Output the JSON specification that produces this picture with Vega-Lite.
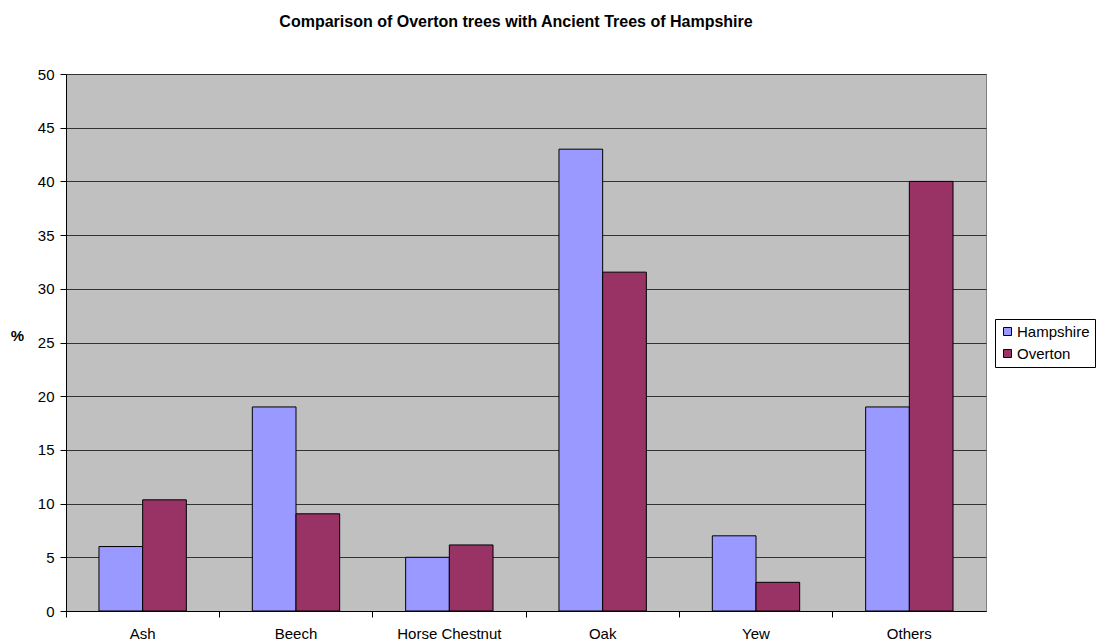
{
  "$schema": "https://vega.github.io/schema/vega-lite/v6.json",
  "width": 920,
  "height": 537,
  "autosize": {"type": "none"},
  "padding": {"left": 66, "top": 74, "right": 110, "bottom": 33},
  "background": "white",
  "title": {
    "text": "Comparison of Overton trees with Ancient Trees of Hampshire",
    "font": "Liberation Sans",
    "fontSize": 16,
    "fontWeight": "bold",
    "color": "black",
    "anchor": "middle",
    "dx": -10,
    "offset": 37
  },
  "data": {
    "values": [
      {"tree": "Ash", "region": "Hampshire", "pct": 6},
      {"tree": "Ash", "region": "Overton", "pct": 10.35},
      {"tree": "Beech", "region": "Hampshire", "pct": 19},
      {"tree": "Beech", "region": "Overton", "pct": 9.05},
      {"tree": "Horse Chestnut", "region": "Hampshire", "pct": 5},
      {"tree": "Horse Chestnut", "region": "Overton", "pct": 6.15},
      {"tree": "Oak", "region": "Hampshire", "pct": 43},
      {"tree": "Oak", "region": "Overton", "pct": 31.55},
      {"tree": "Yew", "region": "Hampshire", "pct": 7},
      {"tree": "Yew", "region": "Overton", "pct": 2.67},
      {"tree": "Others", "region": "Hampshire", "pct": 19},
      {"tree": "Others", "region": "Overton", "pct": 40}
    ]
  },
  "config": {
    "view": {"fill": "#C0C0C0", "stroke": "#808080", "strokeWidth": 1},
    "font": "Liberation Sans"
  },
  "mark": {"type": "bar", "stroke": "black", "strokeWidth": 1},
  "encoding": {
    "x": {
      "field": "tree",
      "type": "nominal",
      "sort": ["Ash", "Beech", "Horse Chestnut", "Oak", "Yew", "Others"],
      "scale": {"paddingInner": 0, "paddingOuter": 0},
      "axis": {
        "title": null,
        "labelAngle": 0,
        "labelFont": "Liberation Sans",
        "labelFontSize": 15,
        "labelColor": "black",
        "labelPadding": 9,
        "domainColor": "black",
        "tickColor": "black",
        "tickSize": 6,
        "bandPosition": 0,
        "grid": false
      }
    },
    "xOffset": {
      "field": "region",
      "type": "nominal",
      "scale": {"paddingInner": 0, "paddingOuter": 0.755}
    },
    "y": {
      "field": "pct",
      "type": "quantitative",
      "scale": {"domain": [0, 50], "nice": false},
      "axis": {
        "values": [0, 5, 10, 15, 20, 25, 30, 35, 40, 45, 50],
        "title": "%",
        "titleAngle": 0,
        "titleFont": "Liberation Sans",
        "titleFontSize": 15,
        "titleFontWeight": "bold",
        "titleColor": "black",
        "titleX": -49,
        "titleY": 269,
        "titleAlign": "center",
        "labelFont": "Liberation Sans",
        "labelFontSize": 15,
        "labelColor": "black",
        "labelPadding": 6,
        "domainColor": "black",
        "tickColor": "black",
        "tickSize": 6,
        "grid": true,
        "gridColor": "#333333",
        "gridWidth": 1
      }
    },
    "color": {
      "field": "region",
      "type": "nominal",
      "scale": {"domain": ["Hampshire", "Overton"], "range": ["#9999FF", "#993366"]},
      "legend": {
        "title": null,
        "orient": "none",
        "legendX": 929,
        "legendY": 245,
        "symbolType": "square",
        "symbolSize": 64,
        "symbolStrokeColor": "black",
        "symbolStrokeWidth": 1,
        "labelFont": "Liberation Sans",
        "labelFontSize": 15,
        "labelColor": "black",
        "labelOffset": 2,
        "rowPadding": 6,
        "strokeColor": "black",
        "padding": 5,
        "fillColor": "white"
      }
    }
  }
}
